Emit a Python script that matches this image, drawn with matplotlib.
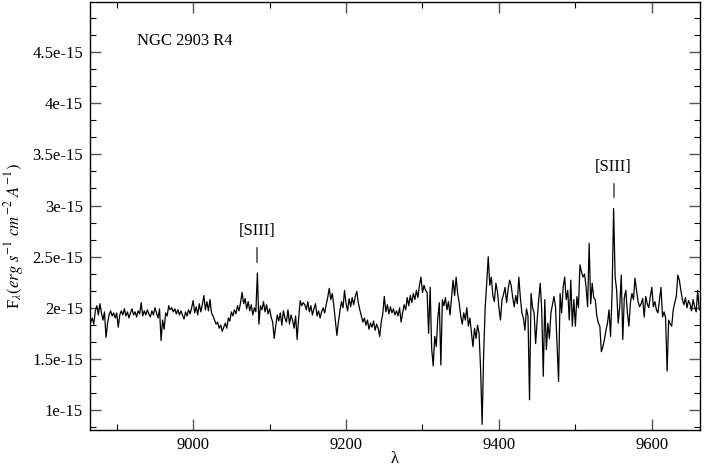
import numpy as np
import matplotlib
matplotlib.use("Agg")
import matplotlib.pyplot as plt
from matplotlib.ticker import MultipleLocator, AutoMinorLocator, FuncFormatter

plt.rcParams['font.family'] = ['Liberation Serif', 'DejaVu Serif']
plt.rcParams['mathtext.fontset'] = 'stix'
plt.rcParams['font.size'] = 12

# spectrum: linear wavelength grid, flux in units of 1e-15 erg/s/cm2/A
wave_start = 8866
wave_step = 2
flux_rows = [
    [1.86, 1.90, 1.84, 1.97, 2.02, 1.93, 2.04, 1.95, 1.88, 1.96, 1.71, 1.85, 1.93, 1.97, 1.92, 1.95, 1.90, 1.95, 1.81, 1.93],
    [1.97, 1.93, 1.99, 1.92, 1.96, 1.90, 1.95, 1.99, 1.93, 1.96, 1.91, 1.97, 1.94, 2.05, 1.92, 1.97, 1.93, 1.98, 1.94, 1.91],
    [1.97, 1.93, 2.00, 1.95, 1.90, 1.99, 1.68, 1.88, 1.79, 1.95, 1.92, 2.02, 1.98, 2.00, 1.96, 1.99, 1.94, 1.98, 1.93, 1.97],
    [1.93, 1.89, 1.96, 1.92, 1.98, 1.94, 2.00, 2.07, 1.95, 2.01, 1.93, 2.04, 1.96, 2.03, 2.12, 1.98, 2.06, 1.97, 2.08, 1.95],
    [1.92, 1.88, 1.84, 1.86, 1.80, 1.83, 1.77, 1.81, 1.85, 1.80, 1.90, 1.87, 1.96, 1.92, 1.98, 1.94, 2.02, 1.97, 2.05, 2.15],
    [2.04, 2.09, 1.99, 2.06, 1.97, 2.03, 1.93, 2.00, 1.96, 2.34, 1.84, 2.02, 1.98, 2.06, 1.96, 2.03, 1.94, 1.99, 1.91, 1.86],
    [1.70, 1.82, 1.93, 1.87, 1.95, 1.83, 1.97, 1.90, 1.86, 1.98, 1.84, 1.93, 1.88, 1.80, 1.92, 1.69, 1.90, 2.07, 2.02, 2.05],
    [2.03, 1.98, 2.06, 1.96, 2.02, 1.93, 1.99, 2.04, 1.92, 1.97, 1.90, 1.96, 2.00, 1.95, 2.03, 2.10, 2.19, 2.08, 2.14, 2.02],
    [1.88, 1.73, 1.86, 1.97, 2.06, 2.00, 2.17, 2.04, 1.97, 2.09, 2.01, 2.10, 2.03, 2.11, 2.16, 2.05, 1.98, 1.92, 1.86, 1.90],
    [1.83, 1.88, 1.79, 1.85, 1.81, 1.87, 1.78, 1.84, 1.80, 1.72, 1.86, 1.94, 2.11, 1.96, 2.03, 1.94, 2.01, 1.95, 1.99, 1.93],
    [1.97, 1.92, 2.00, 1.86, 1.95, 2.03, 1.98, 2.10, 2.02, 2.12, 2.05, 2.14, 2.08, 2.17, 2.10, 2.22, 2.30, 2.15, 2.22, 2.17],
    [2.15, 1.75, 2.20, 1.60, 1.43, 1.72, 1.62, 1.90, 2.05, 1.44, 2.08, 2.02, 2.10, 1.98, 2.06, 1.93, 2.10, 2.27, 2.12, 2.30],
    [2.14, 2.05, 1.92, 1.84, 1.95, 1.88, 2.00, 1.82, 1.90, 1.76, 1.62, 1.80, 1.70, 1.83, 1.75, 1.40, 0.86, 1.55, 2.00, 2.24],
    [2.50, 2.22, 2.30, 2.12, 2.06, 2.24, 2.16, 2.00, 1.88, 2.08, 2.13, 2.20, 2.05, 2.18, 2.27, 2.22, 2.10, 2.01, 2.12, 2.04],
    [2.30, 2.10, 1.95, 1.90, 1.78, 1.99, 1.92, 1.10, 2.14, 2.00, 1.95, 1.65, 1.88, 2.08, 2.24, 1.97, 1.33, 2.08, 1.59, 1.85],
    [1.70, 1.95, 2.03, 2.11, 2.01, 1.65, 1.28, 2.14, 1.95, 2.20, 2.30, 2.08, 2.17, 1.88, 2.27, 1.82, 2.08, 1.82, 2.11, 2.00],
    [2.42, 2.35, 2.30, 2.33, 2.20, 2.01, 2.63, 2.04, 2.24, 2.10, 2.08, 1.92, 1.85, 1.82, 1.57, 1.62, 1.69, 1.78, 1.85, 1.98],
    [1.72, 2.14, 2.97, 2.30, 2.17, 1.85, 2.01, 2.32, 1.69, 2.10, 2.17, 1.95, 1.82, 2.05, 2.14, 2.08, 2.29, 2.17, 2.06, 2.01],
    [2.04, 2.09, 1.91, 2.11, 2.04, 2.00, 2.11, 2.20, 2.01, 2.06, 1.98, 1.95, 2.08, 2.20, 1.91, 1.96, 1.90, 1.38, 1.88, 1.84],
    [1.82, 1.98, 2.05, 2.11, 2.32, 2.27, 2.17, 2.08, 2.03, 2.10, 2.00, 2.07, 2.04, 1.97, 2.08, 2.01, 1.96, 2.17, 1.98],
]
line_names = ['[SIII]', '[SIII]']
line_waves = [9084, 9550]
title_text = 'NGC 2903 R4'
y_ticks = [1.0, 1.5, 2.0, 2.5, 3.0, 3.5, 4.0, 4.5]

flux = np.concatenate([np.array(r) for r in flux_rows]) * 1e-15
wave = wave_start + wave_step * np.arange(len(flux))

fig = plt.figure(figsize=(7.04, 4.69), dpi=100)
ax = fig.add_axes([0.1278, 0.0832, 0.8665, 0.9125])

ax.plot(wave, flux, color='black', lw=0.9)

# line markers above the emission peaks
for name, w in zip(line_names, line_waves):
    peak = np.interp(w, wave, flux)
    ax.plot([w, w], [peak + 0.11e-15, peak + 0.24e-15], color='#555555', lw=1.2)
    ax.text(w, peak + 0.41e-15, name, ha='center', va='center', fontsize=12)

ax.text(0.077, 0.91, title_text, transform=ax.transAxes, fontsize=12, va='center')

ax.set_xlim(8865, 9663)
ax.set_ylim(0.805e-15, 4.99e-15)
ax.xaxis.set_major_locator(MultipleLocator(200))
ax.xaxis.set_minor_locator(AutoMinorLocator(2))
ax.set_yticks([v * 1e-15 for v in y_ticks])
ax.yaxis.set_minor_locator(AutoMinorLocator(3))
ax.yaxis.set_major_formatter(FuncFormatter(lambda v, p: f"{v / 1e-15:g}e-15"))

ax.tick_params(which='both', direction='in', top=True, right=True, labelsize=12)
ax.tick_params(which='major', length=8, width=1.0, color='#555555', pad=5)
ax.tick_params(which='minor', length=4, width=0.8, color='black')
for s in ax.spines.values():
    s.set_linewidth(1.0)

ax.set_xlabel('λ', fontsize=12, va='center')
ax.xaxis.set_label_coords(0.5, -0.068)
ax.set_ylabel(r'F$_{\lambda}$$\mathit{(erg\ s^{-1}\ cm^{-2}\ A^{-1})}$', fontsize=12)
ax.yaxis.set_label_coords(-0.105, 0.453)

fig.savefig('out.png', dpi=100)
